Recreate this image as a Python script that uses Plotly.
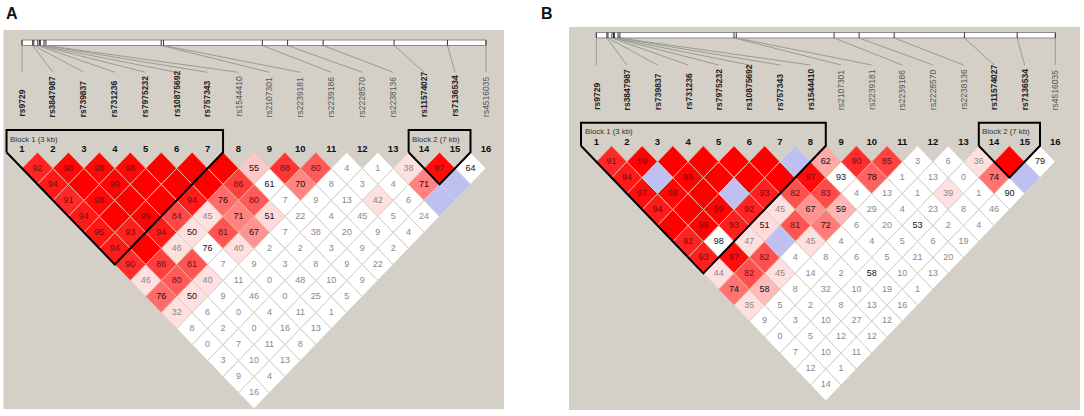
import plotly.graph_objects as go

SNP_NAMES = ["rs9729", "rs3847987", "rs739837", "rs731236", "rs7975232", "rs10875692", "rs757343", "rs1544410",
             "rs2107301", "rs2239181", "rs2239186", "rs2228570", "rs2238136", "rs11574027", "rs7136534", "rs4516035"]
SNP_KB = [0, 2.3, 2.55, 3.4, 3.75, 3.95, 4.75, 5.15, 30.0, 30.5, 51.8, 57.25, 64.9, 80.2, 91.7, 100]
TRACK_KB = 100

# Each list is one diagonal of the LD triangle: distance 1, 2, ... between markers.
# 100 = full red cell without a number, None = blue cell.
A_D1 = [92, 98, 98, 98, 100, 100, 100, 55, 88, 80, 4, 1, 38, 97, 64]
A_D2 = [94, 100, 99, 100, 100, 100, 86, 61, 70, 8, 3, 4, 71, None]
A_D3 = [91, 98, 100, 100, 94, 76, 80, 7, 9, 13, 42, 6, None]
A_D4 = [94, 100, 99, 84, 45, 71, 51, 22, 4, 45, 5, 24]
A_D5 = [95, 93, 94, 50, 81, 67, 7, 38, 20, 9, 4]
A_D6 = [94, 100, 46, 76, 40, 2, 2, 3, 9, 2]
A_D7 = [90, 86, 81, 7, 9, 3, 8, 9, 22]
A_D8 = [46, 80, 40, 11, 0, 48, 10, 9]
A_D9 = [76, 50, 9, 46, 0, 25, 5]
A_D10 = [32, 6, 0, 4, 11, 1]
A_D11 = [8, 2, 0, 16, 13]
A_D12 = [0, 7, 11, 8]
A_D13 = [3, 10, 13]
A_D14 = [9, 4]
A_D15 = [16]
A_DIAGONALS = [A_D1, A_D2, A_D3, A_D4, A_D5, A_D6, A_D7, A_D8, A_D9, A_D10, A_D11, A_D12, A_D13, A_D14, A_D15]
# Pairs with a high D' but too little evidence, drawn white.
A_WEAK = [(15, 16), (8, 10), (8, 13), (10, 14), (4, 10), (4, 13), (6, 14)]
A_BOLD = 7
A_BOLD_EXTRA = ["rs11574027", "rs7136534"]
A_BLOCKS = [(1, 7, "Block 1 (3 kb)"), (14, 15, "Block 2 (7 kb)")]

B_D1 = [91, 99, 100, 100, 100, 100, None, 62, 90, 85, 3, 6, 36, 100, 79]
B_D2 = [94, None, 99, 100, 100, 100, 97, 93, 78, 1, 13, 0, 74, None]
B_D3 = [97, 98, 100, None, 93, 82, 83, 4, 13, 1, 39, 1, 90]
B_D4 = [94, 100, 99, 92, 45, 67, 59, 29, 4, 23, 8, 46]
B_D5 = [100, 99, 93, 51, 81, 72, 6, 20, 53, 2, 4]
B_D6 = [92, 98, 47, None, 45, 4, 4, 5, 6, 19]
B_D7 = [93, 97, 82, 4, 8, 6, 5, 21, 20]
B_D8 = [44, 82, 45, 14, 2, 58, 10, 13]
B_D9 = [74, 58, 8, 32, 10, 19, 1]
B_D10 = [35, 5, 2, 8, 13, 16]
B_D11 = [9, 3, 10, 27, 12]
B_D12 = [0, 5, 12, 12]
B_D13 = [7, 10, 11]
B_D14 = [12, 1]
B_D15 = [14]
B_DIAGONALS = [B_D1, B_D2, B_D3, B_D4, B_D5, B_D6, B_D7, B_D8, B_D9, B_D10, B_D11, B_D12, B_D13, B_D14, B_D15]
B_WEAK = [(15, 16), (8, 10), (13, 16), (12, 16), (2, 8), (9, 14), (6, 14), (4, 13)]
B_BOLD = 8
B_BOLD_EXTRA = ["rs11574027", "rs7136534"]
B_BLOCKS = [(1, 8, "Block 1 (3 kb)"), (14, 15, "Block 2 (7 kb)")]

W, H = 1084, 416
BG = "#d4d0c8"
BLUE = "#c0c0f0"
FONT = "Liberation Sans"

PANELS = [
    dict(letter="A", letter_x=4, diag=A_DIAGONALS, weak=A_WEAK, bold=A_BOLD, extra=A_BOLD_EXTRA, blocks=A_BLOCKS,
         left=3.5, right=504, top=30, bottom=409, m1=22, step=30.93, d1=168.3, dy=16.03,
         bar_top=40, bar_bot=45.5, conn=72.3, label_bot=119, num_y=150, block_top=130, block_label=139,
         xa="x", ya="y"),
    dict(letter="B", letter_x=539, diag=B_DIAGONALS, weak=B_WEAK, bold=B_BOLD, extra=B_BOLD_EXTRA, blocks=B_BLOCKS,
         left=569, right=1080, top=27, bottom=410, m1=596.3, step=30.6, d1=161.7, dy=15.95,
         bar_top=32.5, bar_bot=38, conn=65, label_bot=112, num_y=142.3, block_top=122.7, block_label=131.7,
         xa="x2", ya="y2"),
]


def colour_of(v, weak):
    if v is None:
        return BLUE
    if weak or v < 30:
        return "#ffffff"
    g = min(224, int(446 * (1 - v / 100)))
    return f"#ff{g:02x}{g:02x}"


fig = go.Figure()
annotations = []
layout_axes = {}

for P in PANELS:
    to_m = lambda px, P=P: 1 + (px - P["m1"]) / P["step"]
    to_d = lambda py, P=P: 1 + (py - P["d1"]) / P["dy"]
    xa, ya = P["xa"], P["ya"]
    common = dict(xaxis=xa, yaxis=ya, hoverinfo="skip", showlegend=False)

    # Cells grouped by fill colour
    groups, texts = {}, {"#111111": [], "#888888": [], "#701010": []}
    for d, row in enumerate(P["diag"], start=1):
        for k, v in enumerate(row):
            i, j = k + 1, k + 1 + d
            mx = (i + j) / 2
            col = colour_of(v, (i, j) in P["weak"])
            gx, gy = groups.setdefault(col, ([], []))
            gx += [mx - 0.5, mx, mx + 0.5, mx, mx - 0.5, None]
            gy += [d, d - 1, d, d + 1, d, None]
            if v is not None and v != 100:
                tc = "#888888" if v < 50 else ("#701010" if v >= 80 and col != "#ffffff" else "#111111")
                texts[tc].append((mx, d, str(v)))

    for col in sorted(groups, key=lambda c: (c == BLUE, -int(c[3:5], 16))):
        gx, gy = groups[col]
        g = int(col[3:5], 16)
        edge = "#e8b898" if g < 190 else ("#c8d8e4" if col == BLUE else "#d4d0c8")
        fig.add_trace(go.Scatter(x=gx, y=gy, mode="lines", fill="toself", fillcolor=col,
                                 line=dict(color=edge, width=0.9), **common))

    for tc, items in texts.items():
        fig.add_trace(go.Scatter(x=[t[0] for t in items], y=[t[1] for t in items], text=[t[2] for t in items],
                                 mode="text", textposition="middle center",
                                 textfont=dict(family=FONT, size=9, color=tc), **common))

    # Physical track
    m_end = len(SNP_NAMES)
    d_top, d_bot, d_conn = to_d(P["bar_top"]), to_d(P["bar_bot"]), to_d(P["conn"])
    kb_m = [1 + kb / TRACK_KB * (m_end - 1) for kb in SNP_KB]
    fig.add_trace(go.Scatter(x=[1, m_end, m_end, 1, 1], y=[d_top, d_top, d_bot, d_bot, d_top], mode="lines",
                             fill="toself", fillcolor="#ffffff", line=dict(color="#8a8a8a", width=1), **common))
    tx, ty, cx, cy = [], [], [], []
    for n, m in enumerate(kb_m, start=1):
        tx += [m, m, None]
        ty += [d_top, d_bot, None]
        cx += [m, n, None]
        cy += [d_bot, d_conn, None]
    fig.add_trace(go.Scatter(x=cx, y=cy, mode="lines", line=dict(color="#9a9a96", width=1), **common))
    fig.add_trace(go.Scatter(x=tx, y=ty, mode="lines", line=dict(color="#333333", width=1), **common))

    # Marker numbers
    d_num = to_d(P["num_y"])
    fig.add_trace(go.Scatter(x=list(range(1, m_end + 1)), y=[d_num] * m_end, mode="text",
                             text=[f"<b>{n}</b>" for n in range(1, m_end + 1)],
                             textfont=dict(family=FONT, size=9.5, color="#111111"), **common))

    # Block outlines
    d_btop = to_d(P["block_top"])
    for a, b, label in P["blocks"]:
        fig.add_trace(go.Scatter(
            x=[a - 0.5, a - 0.5, b + 0.5, b + 0.5, (a + b) / 2, a - 0.5],
            y=[0, d_btop, d_btop, 0, b - a + 1, 0],
            mode="lines", line=dict(color="#000000", width=2), **common))
        annotations.append(dict(x=a - 0.5 + 0.05, y=to_d(P["block_label"]), xref=xa, yref=ya, text=label,
                                showarrow=False, xanchor="left", yanchor="middle",
                                font=dict(family=FONT, size=7.8, color="#333333")))

    # SNP names
    for n, name in enumerate(SNP_NAMES, start=1):
        bold = n <= P["bold"] or name in P["extra"]
        annotations.append(dict(x=n, y=to_d(P["label_bot"]), xref=xa, yref=ya,
                                text=f"<b>{name}</b>" if bold else name, showarrow=False, textangle=-90,
                                xanchor="center", yanchor="bottom",
                                font=dict(family=FONT, size=8.5, color="#222222" if bold else "#555555")))

    annotations.append(dict(x=P["letter_x"] / W, y=1 - 13 / H, xref="paper", yref="paper",
                            text=f"<b>{P['letter']}</b>", showarrow=False, xanchor="left", yanchor="middle",
                            font=dict(family=FONT, size=16, color="#111111")))

    suffix = xa[1:]
    layout_axes["xaxis" + suffix] = dict(domain=[P["left"] / W, P["right"] / W],
                                         range=[to_m(P["left"]), to_m(P["right"])], visible=False, fixedrange=True)
    layout_axes["yaxis" + suffix] = dict(domain=[1 - P["bottom"] / H, 1 - P["top"] / H],
                                         range=[to_d(P["bottom"]), to_d(P["top"])], visible=False, fixedrange=True)

shapes = [dict(type="rect", xref="paper", yref="paper", layer="below",
               x0=P["left"] / W, x1=P["right"] / W, y0=1 - P["bottom"] / H, y1=1 - P["top"] / H,
               fillcolor=BG, line=dict(width=0)) for P in PANELS]

fig.update_layout(width=W, height=H, margin=dict(l=0, r=0, t=0, b=0), paper_bgcolor="#ffffff",
                  plot_bgcolor="rgba(0,0,0,0)", showlegend=False, shapes=shapes, annotations=annotations,
                  **layout_axes)
fig.write_html("out.html", config=dict(displayModeBar=False),
               post_script="document.body.style.margin='0';document.body.style.overflow='hidden';")
